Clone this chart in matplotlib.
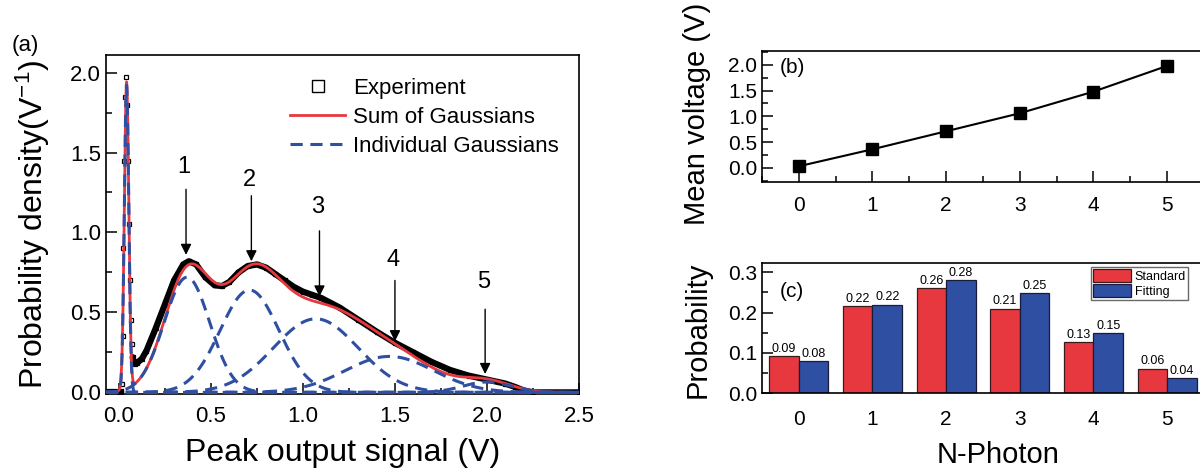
import numpy as np
import matplotlib
matplotlib.use("Agg")
import matplotlib.pyplot as plt
from matplotlib.ticker import MultipleLocator

plt.rcParams['font.family'] = ['Liberation Sans', 'DejaVu Sans']
plt.rcParams['mathtext.fontset'] = 'custom'
plt.rcParams['mathtext.rm'] = 'Liberation Sans'
plt.rcParams['mathtext.it'] = 'Liberation Sans:italic'

# ---------------- data: panel (a) ----------------
exp_x = [-0.07, 0.0, 0.01, 0.015, 0.02, 0.025, 0.03, 0.035, 0.04, 0.045, 0.05, 0.055,
         0.06, 0.065, 0.07, 0.075, 0.08, 0.09, 0.10, 0.125, 0.15, 0.20, 0.25, 0.30,
         0.35, 0.38, 0.42, 0.47, 0.52, 0.56, 0.60, 0.65, 0.70, 0.75, 0.80, 0.85,
         0.90, 0.95, 1.00, 1.05, 1.10, 1.15, 1.20, 1.30, 1.40, 1.50, 1.60, 1.70,
         1.80, 1.90, 2.00, 2.10, 2.15, 2.20, 2.25, 2.50]
exp_y = [0.0, 0.0, 0.0, 0.05, 0.35, 0.90, 1.45, 1.85, 1.97, 1.80, 1.45, 1.05,
         0.70, 0.45, 0.30, 0.22, 0.19, 0.18, 0.185, 0.21, 0.26, 0.40, 0.55, 0.70,
         0.80, 0.82, 0.80, 0.72, 0.67, 0.665, 0.69, 0.75, 0.79, 0.80, 0.78, 0.74,
         0.70, 0.66, 0.63, 0.61, 0.59, 0.56, 0.53, 0.455, 0.38, 0.31, 0.25, 0.19,
         0.14, 0.105, 0.08, 0.055, 0.035, 0.012, 0.0, 0.0]

# fitted Gaussian components (amplitude, centre, width)
gauss_amp = [1.92, 0.72, 0.64, 0.46, 0.225, 0.065]
gauss_mu = [0.042, 0.37, 0.71, 1.07, 1.47, 2.00]
gauss_sigma = [0.012, 0.124, 0.16, 0.23, 0.24, 0.13]

peak_labels = ['1', '2', '3', '4', '5']
peak_x = [0.365, 0.72, 1.09, 1.50, 1.99]
peak_label_y = [1.41, 1.33, 1.16, 0.83, 0.69]
arrow_top = [1.27, 1.23, 1.01, 0.70, 0.52]
arrow_tip = [0.86, 0.82, 0.60, 0.32, 0.115]

# ---------------- data: panel (b) ----------------
n_photon = [0, 1, 2, 3, 4, 5]
mean_voltage = [0.03, 0.36, 0.71, 1.06, 1.48, 1.98]

# ---------------- data: panel (c) ----------------
prob_standard = [0.092, 0.216, 0.261, 0.210, 0.126, 0.061]
prob_fitting = [0.080, 0.220, 0.281, 0.248, 0.149, 0.037]
label_standard = ['0.09', '0.22', '0.26', '0.21', '0.13', '0.06']
label_fitting = ['0.08', '0.22', '0.28', '0.25', '0.15', '0.04']

RED = '#E8383F'
BLUE = '#2F4FA2'

fig = plt.figure(figsize=(12, 4.76), dpi=100)

# ================= panel (a) =================
ax = fig.add_axes([0.0883, 0.1723, 0.3942, 0.7122])
xs = np.linspace(-0.07, 2.5, 2000)
comps = [a * np.exp(-(xs - m) ** 2 / (2 * s ** 2)) for a, m, s in zip(gauss_amp, gauss_mu, gauss_sigma)]
total = np.sum(comps, axis=0)

ex = np.array(exp_x)
ey = np.array(exp_y)
base = ex <= 0.01
body = ex >= 0.075
ax.plot(ex[base], ey[base], color='black', lw=4.5, zorder=2)
ax.plot(ex[body], ey[body], color='black', lw=4.5, zorder=2, solid_joinstyle='round',
        solid_capstyle='round')
ax.plot(ex, ey, ls='none', marker='s', ms=3.5, mfc='none', mec='black', mew=0.9, zorder=2.5)
ax.plot(xs, total, color=RED, lw=2, zorder=3)
for c in comps:
    ax.plot(xs, c, color=BLUE, lw=2.2, ls=(0, (4, 2.5)), zorder=4)

# legend handles
h1, = ax.plot([], [], ls='none', marker='s', ms=8, mfc='white', mec='black', mew=1)
h2, = ax.plot([], [], color=RED, lw=2)
h3, = ax.plot([], [], color=BLUE, lw=2.2, ls=(0, (4, 2.5)))
ax.legend([h1, h2, h3], ['Experiment', 'Sum of Gaussians', 'Individual Gaussians'],
          loc='upper left', bbox_to_anchor=(0.37, 0.958), frameon=False, fontsize=16,
          handlelength=2.5, handletextpad=0.35, labelspacing=0.36, borderaxespad=0)

for lab, px, ly, at, tip in zip(peak_labels, peak_x, peak_label_y, arrow_top, arrow_tip):
    ax.text(px - 0.01, ly, lab, fontsize=17, ha='center', va='center')
    ax.annotate('', xy=(px, tip), xytext=(px, at),
                arrowprops=dict(arrowstyle='-|>', color='black', lw=1.0,
                                mutation_scale=16, shrinkA=0, shrinkB=0))

ax.set_xlim(-0.07, 2.5)
ax.set_ylim(-0.01, 2.11)
ax.xaxis.set_major_locator(MultipleLocator(0.5))
ax.xaxis.set_minor_locator(MultipleLocator(0.25))
ax.yaxis.set_major_locator(MultipleLocator(0.5))
ax.yaxis.set_minor_locator(MultipleLocator(0.25))
ax.tick_params(which='both', direction='in', top=False, right=False, labelsize=16, width=1.1)
ax.tick_params(which='major', length=8)
ax.tick_params(which='minor', length=4)
ax.set_xticks([0.0, 0.5, 1.0, 1.5, 2.0, 2.5])
ax.set_xticklabels(['0.0', '0.5', '1.0', '1.5', '2.0', '2.5'])
ax.tick_params(axis='x', pad=9)
for sp in ax.spines.values():
    sp.set_linewidth(1.2)
ax.set_xlabel('Peak output signal (V)', fontsize=23)
ax.set_ylabel('Probability density(V$^{\\mathregular{-1}}$)', fontsize=23)
ax.xaxis.set_label_coords(0.5, -0.13)
ax.yaxis.set_label_coords(-0.115, 0.5)
fig.text(0.010, 0.905, '(a)', fontsize=16, ha='left', va='center')

# ================= panel (b) =================
axb = fig.add_axes([0.635, 0.6183, 0.3683, 0.2746])
axb.plot(n_photon, mean_voltage, color='black', lw=1.5, marker='s', ms=8)
axb.set_xlim(-0.5, 5.5)
axb.set_ylim(-0.27, 2.27)
axb.xaxis.set_major_locator(MultipleLocator(1))
axb.xaxis.set_minor_locator(MultipleLocator(0.5))
axb.yaxis.set_major_locator(MultipleLocator(0.5))
axb.yaxis.set_minor_locator(MultipleLocator(0.25))
axb.tick_params(which='both', direction='in', top=False, right=False, labelsize=15, width=1.1)
axb.tick_params(which='major', length=8)
axb.tick_params(which='minor', length=4)
axb.tick_params(axis='x', pad=10)
axb.set_yticks([0.0, 0.5, 1.0, 1.5, 2.0])
axb.set_yticklabels(['0.0', '0.5', '1.0', '1.5', '2.0'])
for sp in axb.spines.values():
    sp.set_linewidth(1.2)
axb.set_ylabel('Mean voltage (V)', fontsize=21)
axb.yaxis.set_label_coords(-0.115, 0.52)
axb.text(0.04, 0.87, '(b)', transform=axb.transAxes, fontsize=15, ha='left', va='center')

# ================= panel (c) =================
axc = fig.add_axes([0.635, 0.1737, 0.3683, 0.2731])
xpos = np.arange(len(n_photon))
w = 0.4
axc.bar(xpos - w / 2, prob_standard, w, color=RED, edgecolor='#3a1a1a', lw=0.9, label='Standard')
axc.bar(xpos + w / 2, prob_fitting, w, color=BLUE, edgecolor='#1a1a3a', lw=0.9, label='Fitting')
for i in range(len(xpos)):
    axc.text(xpos[i] - w / 2, prob_standard[i] + 0.003, label_standard[i], fontsize=9,
             ha='center', va='bottom')
    axc.text(xpos[i] + w / 2, prob_fitting[i] + 0.003, label_fitting[i], fontsize=9,
             ha='center', va='bottom')
axc.set_xlim(-0.5, 5.5)
axc.set_ylim(0, 0.322)
axc.set_xticks(xpos)
axc.set_xticklabels([str(n) for n in n_photon])
axc.yaxis.set_major_locator(MultipleLocator(0.1))
axc.yaxis.set_minor_locator(MultipleLocator(0.05))
axc.tick_params(which='both', direction='in', top=False, right=False, labelsize=15, width=1.1)
axc.tick_params(axis='y', which='major', length=8)
axc.tick_params(axis='y', which='minor', length=4)
axc.tick_params(axis='x', which='both', length=0, pad=12)
axc.set_yticks([0.0, 0.1, 0.2, 0.3])
axc.set_yticklabels(['0.0', '0.1', '0.2', '0.3'])
for sp in axc.spines.values():
    sp.set_linewidth(1.2)
axc.set_ylabel('Probability', fontsize=21)
axc.yaxis.set_label_coords(-0.115, 0.49)
axc.set_xlabel('N-Photon', fontsize=21)
axc.xaxis.set_label_coords(0.534, -0.37)
axc.text(0.04, 0.78, '(c)', transform=axc.transAxes, fontsize=15, ha='left', va='center')
leg = axc.legend(loc='upper right', bbox_to_anchor=(0.965, 0.975), fontsize=9, frameon=True,
                 fancybox=False, edgecolor='#444444', handlelength=3.0, handleheight=1.2,
                 handletextpad=0.3, borderpad=0.2, labelspacing=0.1, borderaxespad=0)
leg.get_frame().set_linewidth(1.0)

fig.savefig('out.png', dpi=100)
